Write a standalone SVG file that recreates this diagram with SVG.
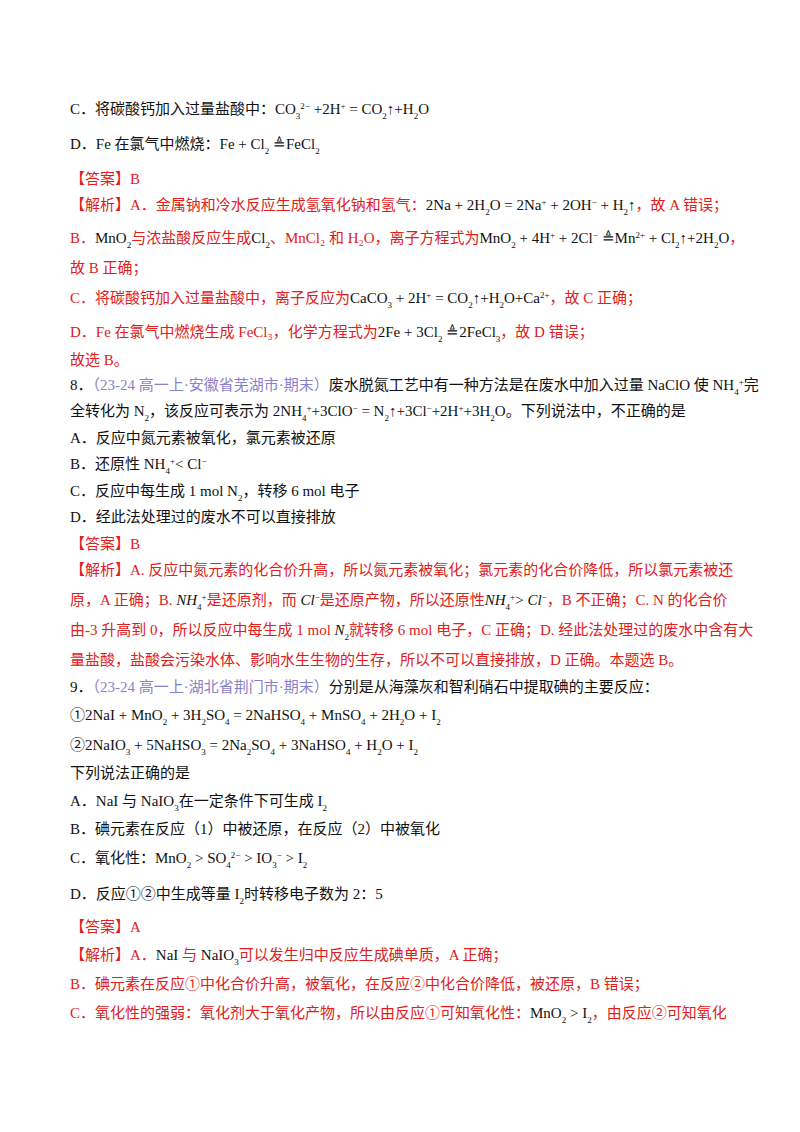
<svg xmlns="http://www.w3.org/2000/svg" width="800" height="1132" viewBox="0 0 800 1132">
<style>
text{font-family:"Liberation Serif","Noto Sans CJK SC",serif;font-size:15px;fill:#111}
.r{fill:#e0201c}
.r tspan{fill:#e0201c}
.b{fill:#111}
.p{fill:#8a7fc8}
.s{font-size:9px;baseline-shift:sub}
.u{font-size:9px;baseline-shift:super}
.i{font-style:italic}
</style>
<rect width="800" height="1132" fill="#fff"/>
<g id="q7">
<text x="70" y="114">C．将碳酸钙加入过量盐酸中：<tspan class="b">CO<tspan class="s">3</tspan><tspan class="u">2−</tspan> +2H<tspan class="u">+</tspan> = CO<tspan class="s">2</tspan>↑+H<tspan class="s">2</tspan>O</tspan></text>
<text x="70" y="149">D．Fe 在氯气中燃烧：Fe + Cl<tspan class="s">2</tspan> ≜FeCl<tspan class="s">2</tspan></text>
<text x="70" y="184" class="r">【答案】B</text>
<text x="70" y="210" class="r">【解析】A．金属钠和冷水反应生成氢氧化钠和氢气：<tspan style="fill:#111">2Na + 2H<tspan class="s" style="fill:#111">2</tspan>O = 2Na<tspan class="u" style="fill:#111">+</tspan> + 2OH<tspan class="u" style="fill:#111">−</tspan> + H<tspan class="s" style="fill:#111">2</tspan>↑</tspan>，故 A 错误；</text>
<text x="70" y="243" class="r">B．<tspan style="fill:#111">MnO<tspan class="s" style="fill:#111">2</tspan></tspan>与浓盐酸反应生成<tspan style="fill:#111">Cl<tspan class="s" style="fill:#111">2</tspan></tspan>、MnCl₂ 和 H₂O，离子方程式为<tspan style="fill:#111">MnO<tspan class="s" style="fill:#111">2</tspan> + 4H<tspan class="u" style="fill:#111">+</tspan> + 2Cl<tspan class="u" style="fill:#111">−</tspan> ≜Mn<tspan class="u" style="fill:#111">2+</tspan> + Cl<tspan class="s" style="fill:#111">2</tspan>↑+2H<tspan class="s" style="fill:#111">2</tspan>O</tspan>，</text>
<text x="70" y="273" class="r">故 B 正确；</text>
<text x="70" y="303" class="r">C．将碳酸钙加入过量盐酸中，离子反应为<tspan style="fill:#111">CaCO<tspan class="s" style="fill:#111">3</tspan> + 2H<tspan class="u" style="fill:#111">+</tspan> = CO<tspan class="s" style="fill:#111">2</tspan>↑+H<tspan class="s" style="fill:#111">2</tspan>O+Ca<tspan class="u" style="fill:#111">2+</tspan></tspan>，故 C 正确；</text>
<text x="70" y="337" class="r">D．Fe 在氯气中燃烧生成 FeCl₃，化学方程式为<tspan style="fill:#111">2Fe + 3Cl<tspan class="s" style="fill:#111">2</tspan> ≜2FeCl<tspan class="s" style="fill:#111">3</tspan></tspan>，故 D 错误；</text>
<text x="70" y="365" class="r">故选 B。</text>
</g>
<g id="q8">
<text x="70" y="390">8．<tspan class="p">（23-24 高一上·安徽省芜湖市·期末）</tspan>废水脱氮工艺中有一种方法是在废水中加入过量 NaClO 使 NH<tspan class="s">4</tspan><tspan class="u">+</tspan>完</text>
<text x="70" y="416">全转化为 N<tspan class="s">2</tspan>，该反应可表示为 2NH<tspan class="s">4</tspan><tspan class="u">+</tspan>+3ClO<tspan class="u">−</tspan> = N<tspan class="s">2</tspan>↑+3Cl<tspan class="u">−</tspan>+2H<tspan class="u">+</tspan>+3H<tspan class="s">2</tspan>O。下列说法中，不正确的是</text>
<text x="70" y="443">A．反应中氮元素被氧化，氯元素被还原</text>
<text x="70" y="469">B．还原性 NH<tspan class="s">4</tspan><tspan class="u">+</tspan>&lt; Cl<tspan class="u">−</tspan></text>
<text x="70" y="496">C．反应中每生成 1 mol N<tspan class="s">2</tspan>，转移 6 mol 电子</text>
<text x="70" y="522">D．经此法处理过的废水不可以直接排放</text>
<text x="70" y="549" class="r">【答案】B</text>
<text x="70" y="575" class="r">【解析】A. 反应中氮元素的化合价升高，所以氮元素被氧化；氯元素的化合价降低，所以氯元素被还</text>
<text x="70" y="605" class="r">原，A 正确；B. <tspan class="i" style="fill:#111">NH</tspan><tspan class="s" style="fill:#111">4</tspan><tspan class="u" style="fill:#111">+</tspan>是还原剂，而 <tspan class="i" style="fill:#111">Cl</tspan><tspan class="u" style="fill:#111">−</tspan>是还原产物，所以还原性<tspan class="i" style="fill:#111">NH</tspan><tspan class="s" style="fill:#111">4</tspan><tspan class="u" style="fill:#111">+</tspan><tspan style="fill:#111">&gt; </tspan><tspan class="i" style="fill:#111">Cl</tspan><tspan class="u" style="fill:#111">−</tspan>，B 不正确；C. N 的化合价</text>
<text x="70" y="635" class="r">由-3 升高到 0，所以反应中每生成 1 mol <tspan class="i" style="fill:#111">N</tspan><tspan class="s" style="fill:#111">2</tspan>就转移 6 mol 电子，C 正确；D. 经此法处理过的废水中含有大</text>
<text x="70" y="665" class="r">量盐酸，盐酸会污染水体、影响水生生物的生存，所以不可以直接排放，D 正确。本题选 B。</text>
</g>
<g id="q9">
<text x="70" y="692">9．<tspan class="p">（23-24 高一上·湖北省荆门市·期末）</tspan>分别是从海藻灰和智利硝石中提取碘的主要反应：</text>
<text x="70" y="720">①2NaI + MnO<tspan class="s">2</tspan> + 3H<tspan class="s">2</tspan>SO<tspan class="s">4</tspan> = 2NaHSO<tspan class="s">4</tspan> + MnSO<tspan class="s">4</tspan> + 2H<tspan class="s">2</tspan>O + I<tspan class="s">2</tspan></text>
<text x="70" y="750">②2NaIO<tspan class="s">3</tspan> + 5NaHSO<tspan class="s">3</tspan> = 2Na<tspan class="s">2</tspan>SO<tspan class="s">4</tspan> + 3NaHSO<tspan class="s">4</tspan> + H<tspan class="s">2</tspan>O + I<tspan class="s">2</tspan></text>
<text x="70" y="778">下列说法正确的是</text>
<text x="70" y="806">A．NaI 与 NaIO<tspan class="s">3</tspan>在一定条件下可生成 I<tspan class="s">2</tspan></text>
<text x="70" y="834">B．碘元素在反应（1）中被还原，在反应（2）中被氧化</text>
<text x="70" y="863">C．氧化性：MnO<tspan class="s">2</tspan> &gt; SO<tspan class="s">4</tspan><tspan class="u">2−</tspan> &gt; IO<tspan class="s">3</tspan><tspan class="u">−</tspan> &gt; I<tspan class="s">2</tspan></text>
<text x="70" y="899">D．反应①②中生成等量 I<tspan class="s">2</tspan>时转移电子数为 2：5</text>
<text x="70" y="932" class="r">【答案】A</text>
<text x="70" y="960" class="r">【解析】A．<tspan style="fill:#111">NaI</tspan> 与 <tspan style="fill:#111">NaIO<tspan class="s" style="fill:#111">3</tspan></tspan>可以发生归中反应生成碘单质，A 正确；</text>
<text x="70" y="989" class="r">B．碘元素在反应①中化合价升高，被氧化，在反应②中化合价降低，被还原，B 错误；</text>
<text x="70" y="1018" class="r">C．氧化性的强弱：氧化剂大于氧化产物，所以由反应①可知氧化性：<tspan style="fill:#111">MnO<tspan class="s" style="fill:#111">2</tspan> &gt; I<tspan class="s" style="fill:#111">2</tspan></tspan>，由反应②可知氧化</text>
</g>
</svg>
